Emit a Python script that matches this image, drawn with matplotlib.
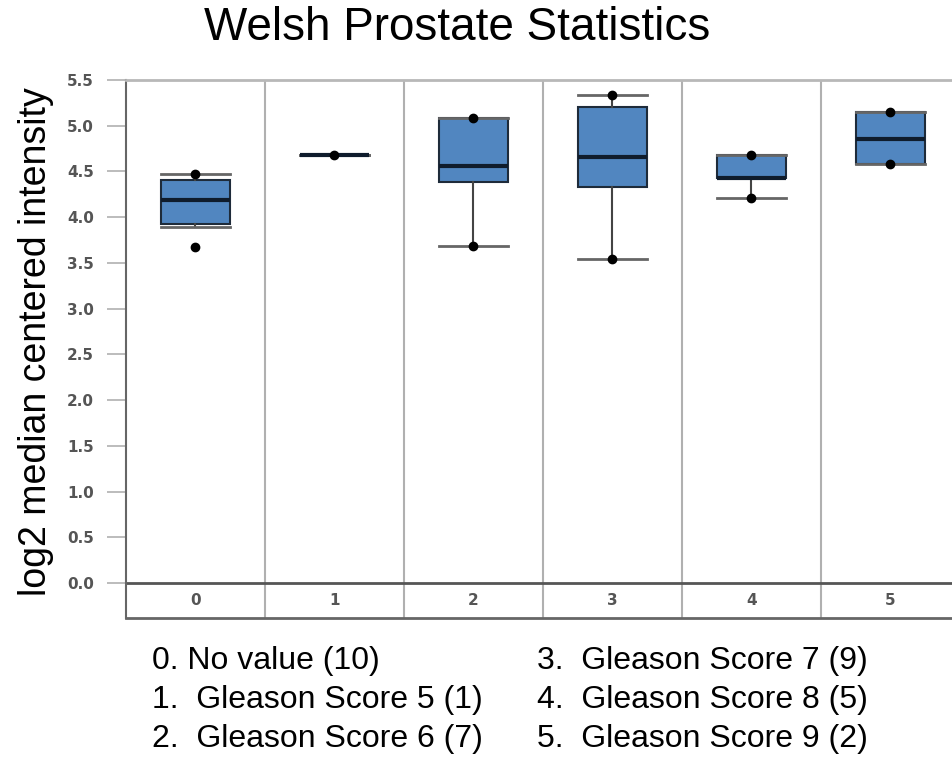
import numpy as np
import matplotlib.pyplot as plt

# box statistics
groups = ['0', '1', '2', '3', '4', '5']
q1 = [3.93, 4.68, 4.39, 4.33, 4.43, 4.58]
med = [4.19, 4.68, 4.56, 4.66, 4.43, 4.86]
q3 = [4.41, 4.68, 5.09, 5.21, 4.68, 5.15]
whislo = [3.89, 4.68, 3.69, 3.54, 4.21, 4.58]
whishi = [4.47, 4.68, 5.09, 5.34, 4.68, 5.15]
fliers = [[3.67], [], [], [], [], []]
legend_left = ['0. No value (10)', '1.  Gleason Score 5 (1)', '2.  Gleason Score 6 (7)']
legend_right = ['3.  Gleason Score 7 (9)', '4.  Gleason Score 8 (5)', '5.  Gleason Score 9 (2)']

fig = plt.figure(figsize=(9.53, 7.62), dpi=100)
W, H = 953, 762
ax = fig.add_axes([126 / W, 1 - 618 / H, (960 - 126) / W, (618 - 80) / H])

stats = []
for i in range(len(groups)):
    stats.append(dict(q1=q1[i], med=med[i], q3=q3[i], whislo=whislo[i],
                      whishi=whishi[i], fliers=fliers[i]))

box_col = '#5186c0'
ax.bxp(stats, positions=np.arange(len(groups)), widths=0.5, capwidths=0.5, patch_artist=True,
       boxprops=dict(facecolor=box_col, edgecolor='#1e2b3a', linewidth=1.5),
       medianprops=dict(color='#0f1c2c', linewidth=3),
       whiskerprops=dict(color='#444444', linewidth=1.5),
       capprops=dict(color='#666666', linewidth=2),
       flierprops=dict(marker='o', markerfacecolor='black', markeredgecolor='black', markersize=6))

# dots at whisker ends
x = np.arange(len(groups))
ax.plot(x, whishi, 'o', color='black', markersize=6, zorder=5)
lo_idx = [2, 3, 4, 5]
ax.plot(x[lo_idx], np.array(whislo)[lo_idx], 'o', color='black', markersize=6, zorder=5)

ymin = -0.38
ax.set_xlim(-0.5, len(groups) - 0.5)
ax.set_ylim(ymin, 5.5)
for d in np.arange(0.5, len(groups) - 0.5, 1):
    ax.axvline(d, color='#b0b0b0', linewidth=1.5, zorder=0)
ax.axhline(0, color='#555555', linewidth=2)
for i, g in enumerate(groups):
    ax.text(i, ymin / 2, g, ha='center', va='center', fontsize=11, fontweight='bold', color='#555555')

ax.set_xticks([])
ax.set_yticks(np.arange(0, 5.51, 0.5))
ax.set_yticklabels(['%.1f' % v for v in np.arange(0, 5.51, 0.5)], fontsize=11,
                   fontweight='bold', color='#555555')
ax.tick_params(axis='y', length=14, color='#b0b0b0', width=1.2, pad=9)
ax.spines['top'].set_color('#b8b8b8')
ax.spines['top'].set_linewidth(2)
ax.spines['right'].set_visible(False)
ax.spines['left'].set_color('#666666')
ax.spines['left'].set_linewidth(1.5)
ax.spines['bottom'].set_color('#666666')
ax.spines['bottom'].set_linewidth(2)

fig.text(36 / W, 1 - 342 / H, 'log2 median centered intensity', ha='center', va='center',
         rotation=90, fontsize=27, family='Liberation Sans')

fig.text(457 / W, 1 - 28 / H, 'Welsh Prostate Statistics', ha='center', va='center',
         fontsize=33, family='Liberation Sans')

for j, s in enumerate(legend_left):
    fig.text(152 / W, 1 - (661 + 39 * j) / H, s, ha='left', va='center', fontsize=23, family='Liberation Sans')
for j, s in enumerate(legend_right):
    fig.text(537 / W, 1 - (661 + 39 * j) / H, s, ha='left', va='center', fontsize=23, family='Liberation Sans')

fig.savefig('out.png', dpi=100)
